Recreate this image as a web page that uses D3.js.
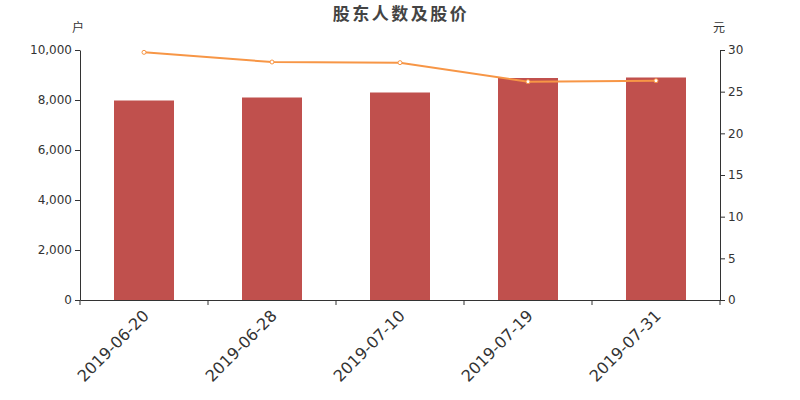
<!DOCTYPE html>
<html><head><meta charset="utf-8">
<script src="https://cdn.jsdelivr.net/npm/d3@7"></script>
<style>body{margin:0;background:#fff;font-family:"DejaVu Sans",sans-serif;}</style>
</head><body><svg id="c" width="800" height="400"></svg>
<script>
const categories = ["2019-06-20","2019-06-28","2019-07-10","2019-07-19","2019-07-31"];
const holders = [7980, 8100, 8300, 8880, 8900];
const prices = [29.72, 28.56, 28.48, 26.20, 26.32];
const leftTicks = [0,2000,4000,6000,8000,10000];
const rightTicks = [0,5,10,15,20,25,30];

const svg = d3.select("#c");
const m = {l:80, r:720, t:50, b:300};
const x = d3.scaleBand().domain(categories).range([m.l, m.r]);
const yL = d3.scaleLinear().domain([0,10000]).range([m.b, m.t]);
const yR = d3.scaleLinear().domain([0,30]).range([m.b, m.t]);
const txt = "#333";

svg.append("text").attr("x",401).attr("y",20).attr("text-anchor","middle")
  .attr("font-family","'Noto Sans CJK SC',sans-serif").attr("font-weight","bold")
  .attr("font-size",17).attr("letter-spacing",2.5).attr("fill","#444").text("股东人数及股价");

svg.selectAll("rect.bar").data(holders).enter().append("rect")
  .attr("x",(d,i)=>x(categories[i])+x.bandwidth()/2-30).attr("width",60)
  .attr("y",d=>yL(d)).attr("height",d=>m.b-yL(d)).attr("fill","#c0504d");

const lAxis = svg.append("g").attr("transform",`translate(${m.l},0)`)
  .call(d3.axisLeft(yL).tickValues(leftTicks).tickFormat(d3.format(",")).tickSize(5).tickSizeOuter(0));
const rAxis = svg.append("g").attr("transform",`translate(${m.r},0)`)
  .call(d3.axisRight(yR).tickValues(rightTicks).tickSize(5).tickSizeOuter(0));
const xAxis = svg.append("g").attr("transform",`translate(0,${m.b})`)
  .call(d3.axisBottom(x).tickValues([]).tickSizeOuter(0));
// boundary ticks
const bounds = categories.map(c=>x(c)).concat([m.r]);
xAxis.selectAll("line.b").data(bounds).enter().append("line")
  .attr("x1",d=>d).attr("x2",d=>d).attr("y1",0).attr("y2",5).attr("stroke",txt);
xAxis.selectAll("text.lbl").data(categories).enter().append("text")
  .attr("transform",d=>`translate(${x(d)+x.bandwidth()/2-2},${9}) rotate(-45)`)
  .attr("text-anchor","end").attr("dy","0.7em").attr("font-size",16).attr("fill",txt)
  .attr("font-family","'DejaVu Sans',sans-serif").text(d=>d);

[lAxis,rAxis,xAxis].forEach(g=>{
  g.selectAll("path.domain").attr("stroke",txt);
  g.selectAll(".tick line").attr("stroke",txt);
  g.selectAll(".tick text").attr("fill",txt).attr("font-size",12).attr("font-family","'DejaVu Sans',sans-serif");
});

svg.append("text").attr("x",78).attr("y",32).attr("text-anchor","middle")
  .attr("font-family","'Noto Sans CJK SC',sans-serif").attr("font-size",12).attr("fill",txt).text("户");
svg.append("text").attr("x",719).attr("y",32).attr("text-anchor","middle")
  .attr("font-family","'Noto Sans CJK SC',sans-serif").attr("font-size",12).attr("fill",txt).text("元");

const line = d3.line().x((d,i)=>x(categories[i])+x.bandwidth()/2).y(d=>yR(d));
svg.append("path").datum(prices).attr("d",line).attr("fill","none")
  .attr("stroke","#f79646").attr("stroke-width",2);
svg.selectAll("circle.pt").data(prices).enter().append("circle")
  .attr("cx",(d,i)=>x(categories[i])+x.bandwidth()/2).attr("cy",d=>yR(d)).attr("r",2)
  .attr("fill","#fff").attr("stroke","#f79646").attr("stroke-width",1);
</script></body></html>
